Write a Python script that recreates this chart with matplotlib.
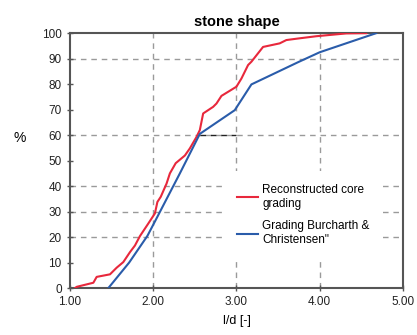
import matplotlib
matplotlib.use("Agg")
import matplotlib.pyplot as plt

plt.rcParams['font.family'] = ['Liberation Sans', 'DejaVu Sans']

# grading curves, l/d ratio vs cumulative percentage
red_ld = [1.06, 1.08, 1.28, 1.32, 1.48, 1.56, 1.64, 1.72, 1.78, 1.84, 1.94, 2.02,
          2.05, 2.09, 2.16, 2.20, 2.27, 2.38, 2.44, 2.52, 2.56, 2.60, 2.66, 2.72,
          2.76, 2.82, 2.90, 3.00, 3.06, 3.14, 3.18, 3.32, 3.52, 3.60, 3.74, 3.96,
          4.32, 4.56]
red_pct = [0, 0.5, 2.1, 4.4, 5.4, 8, 10.2, 14.1, 16.7, 20.4, 25.3, 29.3,
           33.8, 35.8, 41, 45, 49, 52, 54.8, 59.3, 62, 68.5, 69.8, 71.1,
           72.4, 75.4, 77, 79, 82.2, 87.5, 88.8, 94.6, 96, 97.3, 97.9, 98.8,
           99.9, 100]
blue_ld = [1.46, 1.71, 1.93, 2.05, 2.32, 2.56, 2.98, 3.18, 3.74, 4.00, 4.68]
blue_pct = [0, 10, 20.5, 28, 45, 60.5, 69.8, 79.9, 88.6, 92.5, 100]

hgrid = [20, 30, 40, 60, 90]
vgrid = [2, 3, 4]
xticks = [1, 2, 3, 4, 5]
xlabels = ['1.00', '2.00', '3.00', '4.00', '5.00']
yticks = list(range(0, 101, 10))

fig = plt.figure(figsize=(4.17, 3.35), dpi=100)
fig.patch.set_facecolor('white')
ax = fig.add_axes([0.168, 0.140, 0.798, 0.761])

grid_kw = dict(color='#9a9a9a', lw=1.0, ls=(0, (4, 3.5)), zorder=1)
for y in hgrid:
    ax.axhline(y, **grid_kw)
for x in vgrid:
    ax.axvline(x, **grid_kw)
# darker dash where the 60 % line meets the reference curve
ax.plot([blue_ld[5], 3.0], [60, 60], color='#222222', lw=1.0,
        ls=(0, (4, 3.5)), zorder=1.5)

ax.plot(red_ld, red_pct, color='#e8283c', lw=1.5, zorder=3,
        label='Reconstructed core\ngrading')
ax.plot(blue_ld, blue_pct, color='#2a5caa', lw=1.5, zorder=3,
        label='Grading Burcharth &\nChristensen"')

ax.set_xlim(1, 5)
ax.set_ylim(0, 100)
ax.set_xticks(xticks)
ax.set_xticklabels(xlabels)
ax.set_yticks(yticks)
ax.tick_params(direction='inout', length=5, width=1, color='#555555',
               labelsize=8.5, labelcolor='#222222')
for s in ax.spines.values():
    s.set_color('#555555')
    s.set_linewidth(1.5)

ax.set_title('stone shape', fontsize=10.5, fontweight='bold', pad=5)
ax.set_xlabel('l/d [-]', fontsize=9, labelpad=5)
ax.set_ylabel('%', fontsize=10, rotation=0, labelpad=18)
ax.yaxis.set_label_coords(-0.15, 0.56)

leg = ax.legend(loc='upper left', bbox_to_anchor=(0.462, 0.46), borderaxespad=0,
                frameon=True, fontsize=8.5, handlelength=1.8, handletextpad=0.35,
                labelspacing=0.9, borderpad=1.1)
leg.get_frame().set_facecolor('white')
leg.get_frame().set_edgecolor('none')
leg.get_frame().set_alpha(1)
leg.set_zorder(2)

fig.savefig('out.png', dpi=100)
